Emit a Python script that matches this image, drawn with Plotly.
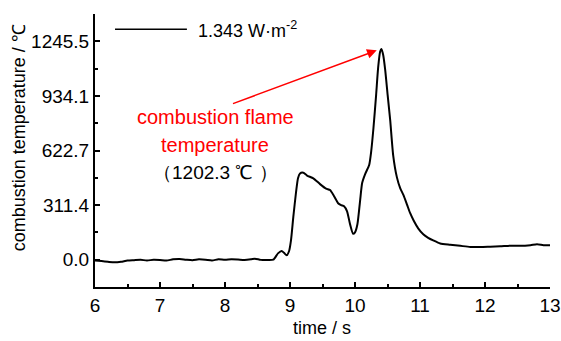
import plotly.graph_objects as go

time_s = [6.0, 6.1, 6.2, 6.3, 6.4, 6.5, 6.6, 6.7, 6.8, 6.9, 7.0, 7.1, 7.2, 7.3, 7.4, 7.5, 7.6, 7.7,
          7.8, 7.9, 8.0, 8.1, 8.2, 8.3, 8.4, 8.46, 8.55, 8.65, 8.743, 8.815, 8.872, 8.908, 8.949,
          8.985, 9.015, 9.051, 9.093, 9.123, 9.154, 9.205, 9.262, 9.359, 9.462, 9.555, 9.616,
          9.678, 9.74, 9.786, 9.832, 9.878, 9.924, 9.97, 10.0, 10.037, 10.079, 10.11, 10.156,
          10.218, 10.248, 10.284, 10.325, 10.356, 10.387, 10.407, 10.433, 10.464, 10.502,
          10.541, 10.587, 10.644, 10.695, 10.746, 10.803, 10.849, 10.9, 10.972, 11.05, 11.126,
          11.203, 11.311, 11.465, 11.62, 11.773, 11.93, 12.08, 12.234, 12.39, 12.54, 12.7,
          12.8, 12.9, 13.0]
temp_c = [-5, -8, -12, -15, -12, -5, -3, -1, -4, -1, -2, -5, 2, 4, 0, -3, 2, 0,
          -4, 2, -1, 3, 1, -2, 2, 6, -1, -2, 0, 36, 50, 39, 25,
          48, 110, 244, 385, 465, 492, 496, 480, 464, 431, 405, 397,
          362, 322, 311, 305, 276, 202, 148, 156, 202, 339, 437, 488,
          540, 614, 751, 940, 1095, 1187, 1202.3, 1169, 1084, 940,
          797, 597, 471, 408, 368, 311, 265, 225, 179, 145, 125,
          110, 92, 85, 79, 73, 72, 74, 76, 80, 79, 83,
          88, 83, 82]

y_ticks = [0.0, 311.4, 622.7, 934.1, 1245.5]
y_tick_labels = ["0.0", "311.4", "622.7", "934.1", "1245.5"]
x_ticks = [6, 7, 8, 9, 10, 11, 12, 13]

series_name = "1.343 W·m<sup>-2</sup>"
x_title = "time / s"
y_title = "combustion temperature / ℃"
peak_label_lines = ["combustion flame", "temperature"]
peak_value_label = "（1202.3 ℃ ）"

FONT = "Liberation Sans, Arial"

fig = go.Figure()
fig.add_trace(go.Scatter(x=time_s, y=temp_c, mode="lines",
                         line=dict(color="black", width=2, shape="spline", smoothing=0.6),
                         name=series_name, showlegend=False))

step = y_ticks[1] - y_ticks[0]
y_lo = y_ticks[0] - step / 2
y_hi = y_ticks[-1] + step / 2
minor_y = [y_lo] + [v + step / 2 for v in y_ticks]

fig.update_layout(
    template="none",
    width=561, height=341,
    margin=dict(l=95, r=11, t=14, b=54),
    paper_bgcolor="white", plot_bgcolor="white",
    font=dict(family=FONT, size=18, color="black"),
    showlegend=False,
)
fig.update_xaxes(range=[6, 13], tickvals=x_ticks, ticks="inside", ticklen=5, tickwidth=1.5,
                 tickcolor="black", automargin=False,
                 showline=True, linecolor="black", linewidth=2, showgrid=False, zeroline=False,
                 minor=dict(tickvals=[v + 0.5 for v in x_ticks[:-1]], ticks="inside", ticklen=3,
                            tickwidth=1.5, tickcolor="black", showgrid=False),
                 tickfont=dict(size=19))
fig.update_yaxes(range=[y_lo, y_hi], tickvals=y_ticks, ticktext=y_tick_labels, ticks="inside",
                 ticklen=5, tickwidth=1.5, tickcolor="black", automargin=False,
                 showline=True, linecolor="black", linewidth=2,
                 showgrid=False, zeroline=False,
                 minor=dict(tickvals=minor_y, ticks="inside", ticklen=3, tickwidth=1.5,
                            tickcolor="black", showgrid=False),
                 tickfont=dict(size=19))

# axis titles
fig.add_annotation(xref="paper", yref="paper", x=0.499, y=-0.151, text=x_title,
                   showarrow=False, xanchor="center", yanchor="middle", font=dict(size=18))
fig.add_annotation(xref="paper", yref="paper", x=-0.167, y=0.545, text=y_title, textangle=-90,
                   showarrow=False, xanchor="center", yanchor="middle", font=dict(size=18))

# legend sample
fig.add_shape(type="line", xref="paper", yref="paper", x0=0.044, x1=0.202, y0=0.944, y1=0.944,
              line=dict(color="black", width=1.5))
fig.add_annotation(xref="paper", yref="paper", x=0.222, y=0.944, text=series_name,
                   showarrow=False, xanchor="left", yanchor="middle", font=dict(size=18))

# arrow to peak
fig.add_annotation(x=10.335, y=1194, ax=8.10, ay=887, xref="x", yref="y", axref="x", ayref="y",
                   text="", showarrow=True, arrowhead=2, arrowsize=1.3, arrowwidth=1.5,
                   arrowcolor="red")
fig.add_annotation(x=7.85, y=812, xref="x", yref="y", text=peak_label_lines[0], showarrow=False,
                   font=dict(color="red", size=20), xanchor="center", yanchor="middle")
fig.add_annotation(x=7.85, y=656, xref="x", yref="y", text=peak_label_lines[1], showarrow=False,
                   font=dict(color="red", size=20), xanchor="center", yanchor="middle")
fig.add_annotation(x=7.85, y=498, xref="x", yref="y", text=peak_value_label, showarrow=False,
                   font=dict(color="black", size=19), xanchor="center", yanchor="middle")

fig.write_html("out.html")
